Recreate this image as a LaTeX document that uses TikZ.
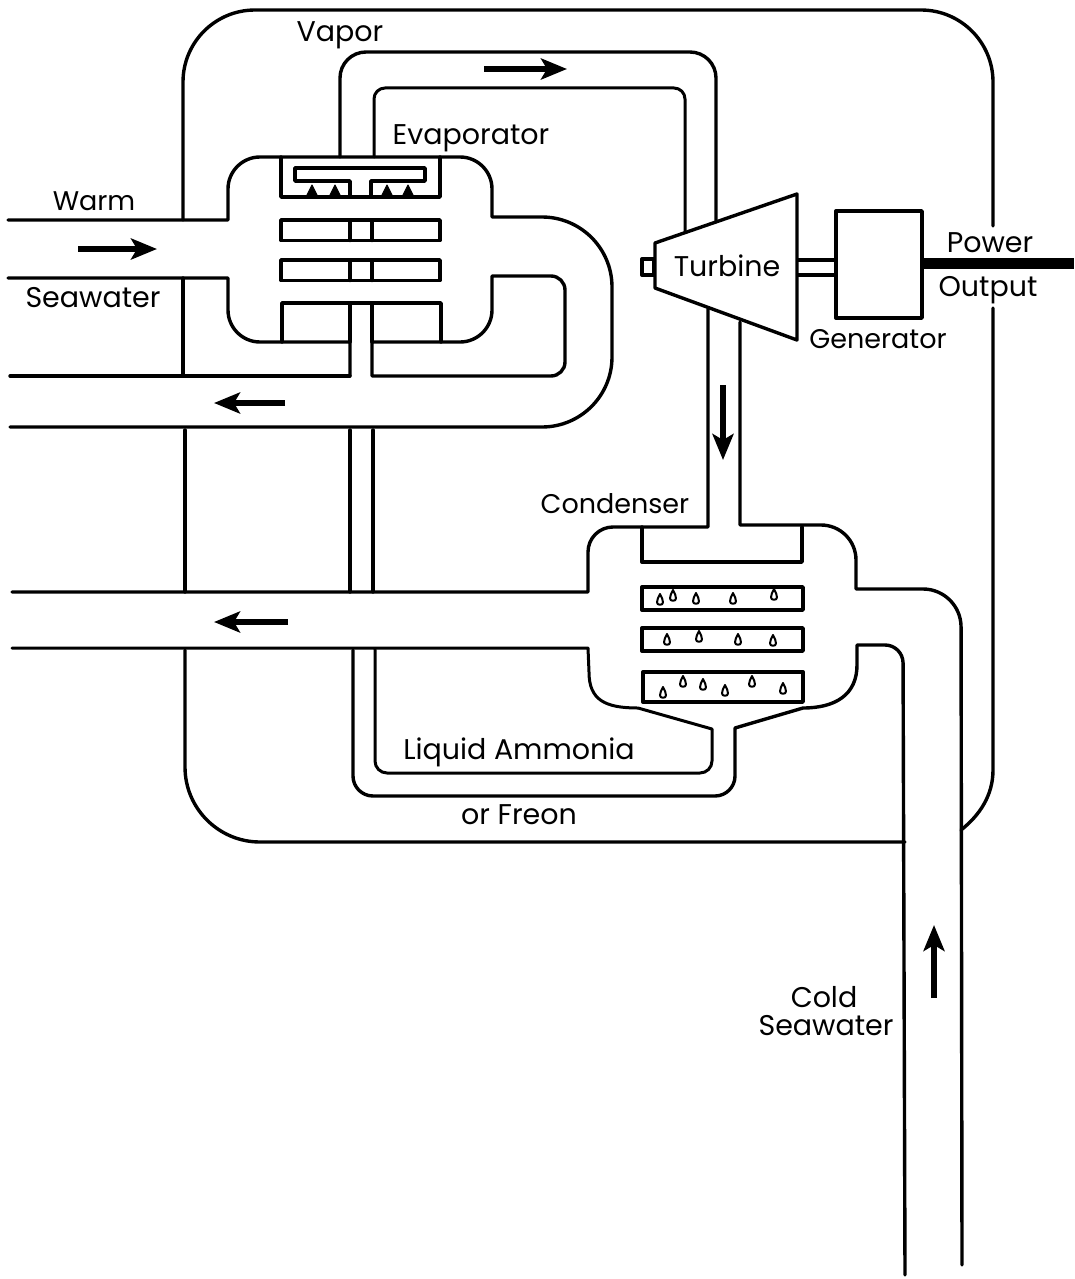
\documentclass[tikz,border=0pt]{standalone}
\usepackage{fontspec}
\setmainfont{Poppins}
\usepackage{tikz}
\usetikzlibrary{arrows.meta}
\tikzset{
  pipe/.style={line width=3.4pt, line cap=round, line join=round},
  thin pipe/.style={line width=3pt, line cap=round, line join=round},
  flow/.style={line width=6.5pt, -{Stealth[length=26pt,width=21pt,inset=6pt]}},
  lbl/.style={font=\fontsize{28.5}{30}\selectfont, inner sep=0pt, text=black},
  small lbl/.style={lbl, font=\fontsize{27}{30}\selectfont},
  vane/.style={fill=black, draw=black, line width=1pt, line join=round},
  droplet/.pic={\draw[line width=2pt, line join=round] (0,-7) .. controls (2,-3) and (3,-1) .. (3,1.5)
    .. controls (3,4.5) and (-3,4.5) .. (-3,1.5) .. controls (-3,-1) and (-2,-3) .. (0,-7) -- cycle;}
}
\begin{document}
\begin{tikzpicture}[x=1pt,y=-1pt]
        \useasboundingbox (0,0) rectangle (1074,1279);
        % outer loop
        \draw[pipe] (183,220) [rounded corners=72pt] -- (183,10) -- (993,10) [rounded corners=0pt] -- (993,226);
        \draw[pipe] (993,308) [rounded corners=0pt] -- (993,770) .. controls (993,795) and (980,815) .. (961,830);
        \draw[pipe] (183,278) -- (183,376);
        \draw[pipe] (185,430) -- (185,592);
        \draw[pipe] (185,650) [rounded corners=75pt] -- (185,842) [sharp corners] -- (905,842);
        % vapor line
        \draw[pipe] (340,157) [rounded corners=26pt] -- (340,52) -- (716,52) [sharp corners] -- (716,222);
        \draw[thin pipe] (374,157) [rounded corners=11pt] -- (374,88) -- (685,88) [sharp corners] -- (685,232);
        % warm seawater and evaporator
        \draw[pipe] (8,220) -- (228,220) [rounded corners=32pt] -- (228,157) -- (492,157) [sharp corners] -- (492,217)
          [rounded corners=70pt] -- (612,217) -- (612,427) [sharp corners] -- (10,427);
        \draw[pipe] (8,278) -- (228,278) [rounded corners=32pt] -- (228,342) [sharp corners] -- (350,342) -- (350,376);
        \draw[pipe] (10,376) -- (350,376);
        \draw[pipe] (372,376) -- (372,342) [rounded corners=32pt] -- (492,342) [sharp corners] -- (492,276)
          [rounded corners=14pt] -- (565,276) -- (565,376) [sharp corners] -- (372,376);
        \draw[pipe] (281,157) -- (281,197) -- (440,197) -- (440,157);
        \draw[pipe] (350,197) -- (350,181) -- (295,181) -- (295,168) -- (425,168) -- (425,181) -- (371,181) -- (371,197);
        \foreach \vanex in {312,335,387,408}
          \draw[vane] (\vanex-6,197) -- (\vanex,185) -- (\vanex+6,197) -- cycle;
        \foreach \platey in {220,260}
          \draw[pipe] (281,\platey) rectangle (440,\platey+20.5);
        \foreach \platey in {220,260}
          \draw[pipe] (350,\platey) -- (350,\platey+20.5) (372,\platey) -- (372,\platey+20.5);
        \draw[pipe] (282,342) -- (282,303) -- (441,303) -- (441,342);
        \draw[pipe] (350,303) -- (350,342) (372,303) -- (372,342);
        % liquid line
        \draw[pipe] (350,430) -- (350,592) (373,430) -- (373,592);
        \draw[pipe] (353,650) [rounded corners=20pt] -- (353,796) -- (735,796) [sharp corners] -- (735,728) -- (803,708)
          .. controls (835,708) and (857,695) .. (857,665) -- (857,645)
          [rounded corners=18pt] -- (903,645) -- (905,1275);
        \draw[thin pipe] (375,650) [rounded corners=12pt] -- (375,773) -- (712,773) [sharp corners] -- (712,729) -- (638,708)
          .. controls (605,708) and (589,700) .. (589,672) -- (588,648) -- (12,648);
        % condenser
        \draw[pipe] (12,592) -- (588,592) [rounded corners=25pt] -- (588,527) [sharp corners] -- (708,527) -- (708,309);
        \draw[pipe] (740,322) -- (740,525) [rounded corners=35pt] -- (856,525) [sharp corners] -- (856,589)
          [rounded corners=38pt] -- (961,589) [sharp corners] -- (962,1265);
        \draw[pipe] (642,527) -- (642,562) -- (802,562) -- (802,527);
        \draw[pipe] (642,587) rectangle (803,610);
        \draw[pipe] (642,628) rectangle (803,651);
        \draw[pipe] (643,672) rectangle (803,702);
        \foreach \dropx/\dropy in {660/601,673/597,696/600,733/600,774/596,667/641,699/638,738/641,773/642,
                                   663/694,683/683,703/686,725/692,752/683,783/690}
          \pic at (\dropx,\dropy) {droplet};
        % turbine and generator
        \draw[pipe] (655,243) -- (797,194) -- (797,340) -- (655,288) -- cycle;
        \draw[pipe] (642,259) rectangle (654,275);
        \draw[line width=4.5pt] (797,260) -- (836,260) (797,275) -- (836,275);
        \draw[pipe] (836,211) rectangle (922,318);
        \draw[line width=11pt] (922,263) -- (1074,263);
        % flow arrows
        \draw[flow] (78,249) -- (157,249);
        \draw[flow] (484,69) -- (567,69);
        \draw[flow] (285,403) -- (214,403);
        \draw[flow] (723,385) -- (723,460);
        \draw[flow] (288,622) -- (214,622);
        \draw[flow] (934,998) -- (934,925);
        % labels
        \node[lbl] (vapor) at (340,35) {Vapor};
        \node[lbl] (evap) at (471,138) {Evaporator};
        \node[small lbl] (warm) at (94,201) {Warm};
        \node[lbl] (warmsea) at (93,298) {Seawater};
        \node[lbl] (turbine) at (727,266) {Turbine};
        \node[lbl] (power) at (990,243) {Power};
        \node[lbl] (output) at (988,290) {Output};
        \node[small lbl] (generator) at (878,339) {Generator};
        \node[small lbl] (condenser) at (615,504) {Condenser};
        \node[lbl] (ammonia) at (519,752) {Liquid Ammonia};
        \node[lbl] (freon) at (519,815) {or Freon};
        \node[lbl] (cold) at (824,997) {Cold};
        \node[lbl] (coldsea) at (826,1026) {Seawater};
      \end{tikzpicture}
\end{document}
